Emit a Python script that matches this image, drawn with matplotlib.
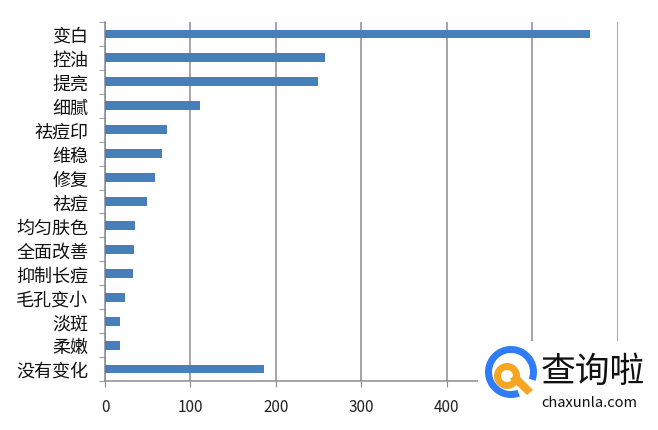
import matplotlib.pyplot as plt
import numpy as np
from matplotlib.patches import Wedge, Rectangle, Polygon

plt.rcParams['font.family'] = ['Noto Sans CJK SC', 'DejaVu Sans']

labels = ['变白', '控油', '提亮', '细腻', '祛痘印', '维稳', '修复', '祛痘',
          '均匀肤色', '全面改善', '抑制长痘', '毛孔变小', '淡斑', '柔嫩', '没有变化']
counts = [567, 257, 249, 111, 72, 67, 58, 49, 35, 34, 33, 23, 18, 18, 186]
xticks = [0, 100, 200, 300, 400, 500, 600]
# 500 and 600 labels sit under the watermark in the source image
xtick_labels = ['0', '100', '200', '300', '400', '', '']

fig = plt.figure(figsize=(6.58, 4.31), dpi=100)
ax = fig.add_axes([0.1596, 0.1137, 0.7794, 0.8329])

pos = np.arange(len(labels))
ax.barh(pos, counts, height=0.37, color='#4A7EBB', zorder=3)
ax.set_ylim(len(labels) - 0.5, -0.5)
ax.set_xlim(0, 600)

grid_c = '#8C8C8C'
ax.set_xticks(xticks)
ax.set_xticklabels(xtick_labels, fontsize=11, color='#222222')
ax.xaxis.grid(True, color=grid_c, linewidth=1.1, zorder=0)
ax.tick_params(axis='x', direction='out', length=4, color=grid_c, pad=8)

ax.set_yticks(pos)
ax.set_yticklabels(labels, fontsize=13, color='#111111')
ax.set_yticks(np.arange(len(labels) + 1) - 0.5, minor=True)
ax.tick_params(axis='y', which='major', length=0, pad=12)
ax.tick_params(axis='y', which='minor', direction='out', length=4, color=grid_c)

for s in ['top', 'right']:
    ax.spines[s].set_visible(False)
for s in ['left', 'bottom']:
    ax.spines[s].set_color(grid_c)
    ax.spines[s].set_linewidth(1.1)

# watermark, positions in pixels from top-left
H = 431
fx = lambda px: px / 658
fy = lambda py: 1 - py / H
tf = fig.transFigure
fig.patches.append(Rectangle((fx(478), fy(420)), fx(650) - fx(478), fy(342) - fy(420),
                             transform=tf, facecolor='white', edgecolor='none', zorder=10))
fig.patches.append(Wedge((511, H - 373), 26, -20, 290, width=7,
                         transform=None, facecolor='#2F7CF6', edgecolor='none', zorder=11))
fig.patches.append(Polygon([(fx(510), fy(380)), (fx(516), fy(374)), (fx(533), fy(391)), (fx(527), fy(396))],
                           closed=True, transform=tf, facecolor='#F6A623', edgecolor='none', zorder=12))
fig.patches.append(Wedge((507, H - 377), 13, 0, 360, width=7,
                         transform=None, facecolor='#F6A623', edgecolor='none', zorder=12))
fig.text(fx(593), fy(372), '查询啦', fontsize=25, color='#111111',
         ha='center', va='center', zorder=13)
fig.text(fx(589), fy(403), 'chaxunla.com', fontsize=10.5, color='#111111',
         ha='center', va='center', zorder=13)

fig.savefig('out.png', dpi=100)
